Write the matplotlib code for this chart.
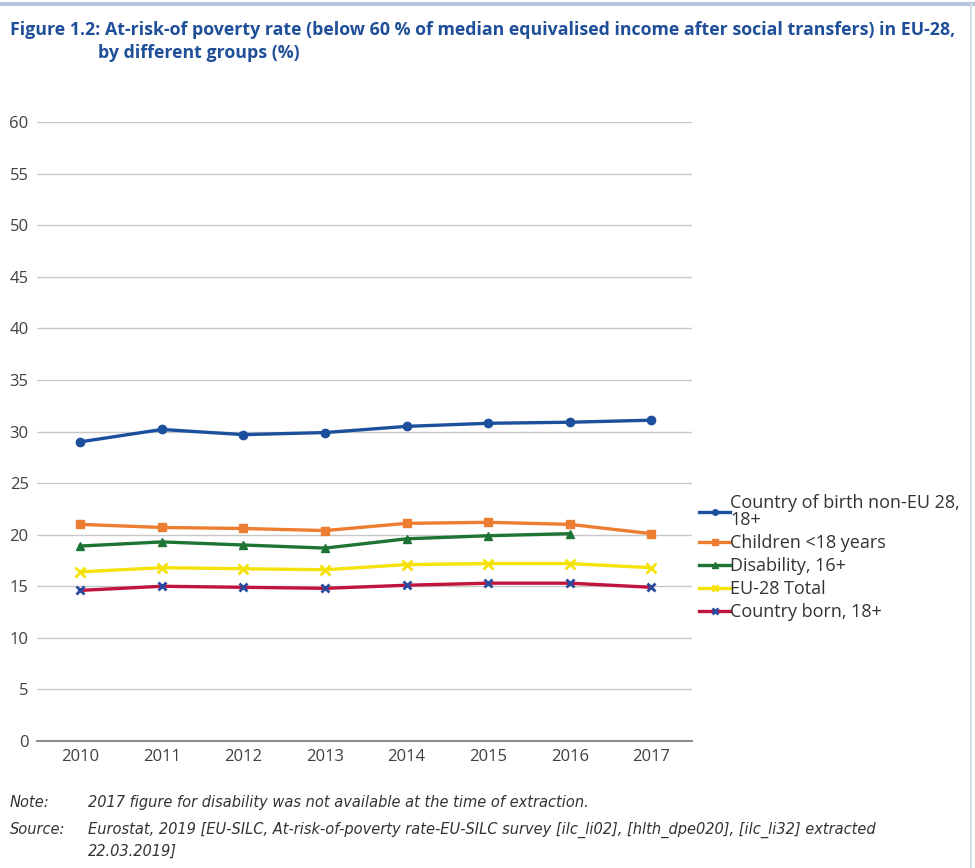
import matplotlib
matplotlib.use("Agg")
import matplotlib.pyplot as plt
from matplotlib.lines import Line2D

years = ["2010", "2011", "2012", "2013", "2014", "2015", "2016", "2017"]
non_eu = [29.0, 30.2, 29.7, 29.9, 30.5, 30.8, 30.9, 31.1]
children = [21.0, 20.7, 20.6, 20.4, 21.1, 21.2, 21.0, 20.1]
disability = [18.9, 19.3, 19.0, 18.7, 19.6, 19.9, 20.1]
eu_total = [16.4, 16.8, 16.7, 16.6, 17.1, 17.2, 17.2, 16.8]
country_born = [14.6, 15.0, 14.9, 14.8, 15.1, 15.3, 15.3, 14.9]

labels = ["Country of birth non-EU 28,\n18+", "Children <18 years", "Disability, 16+",
          "EU-28 Total", "Country born, 18+"]
yticks = list(range(0, 61, 5))

fig = plt.figure(figsize=(9.75, 8.68), dpi=100)
ax = fig.add_axes([0.038, 0.1463, 0.672, 0.7131])

x = list(range(len(years)))
tick_color = "#404040"

ax.plot(x, non_eu, color="#1c4f9c", lw=2.4, marker="o", ms=6, label=labels[0])
ax.plot(x, children, color="#ed7d31", lw=2.4, marker="s", ms=6, label=labels[1])
ax.plot(x[:len(disability)], disability, color="#1d7434", lw=2.4, marker="^", ms=6, label=labels[2])
ax.plot(x, eu_total, color="#f4e20a", lw=2.4, marker="x", ms=7, mew=2, label=labels[3])
ax.plot(x, country_born, color="#c0143c", lw=2.4, marker="x", ms=6, mew=2,
        mec="#2a4a9e", label=labels[4])

ax.set_xlim(-0.53, 7.5)
ax.set_ylim(0, 60)
ax.set_yticks(yticks)
ax.set_xticks(x)
ax.set_xticklabels(years)
for s in ["top", "right", "left"]:
    ax.spines[s].set_visible(False)
ax.spines["bottom"].set_color("#8c8c8c")
ax.spines["bottom"].set_linewidth(1.5)
ax.grid(axis="y", color="#c8c8c8", lw=1.0)
ax.set_axisbelow(True)
ax.tick_params(axis="both", length=0, labelsize=12, colors=tick_color)
ax.tick_params(axis="y", pad=6)
ax.tick_params(axis="x", pad=6)
for t in ax.get_xticklabels() + ax.get_yticklabels():
    t.set_fontfamily("Open Sans")

leg = ax.legend(loc="upper left", bbox_to_anchor=(1.0, 0.41), frameon=False,
                handlelength=1.7, handletextpad=0.0, labelspacing=0.28,
                borderaxespad=0.0, prop={"family": "Open Sans", "size": 13})
for t in leg.get_texts():
    t.set_color("#333333")
    t.set_linespacing(0.9)
for h in leg.legend_handles:
    h.set_markersize(4)

title_color = "#1f4f98"
fig.text(0.010, 0.9655, "Figure 1.2:", fontsize=12.8, fontweight="bold", color=title_color,
         family="Open Sans", va="center", ha="left")
fig.text(0.108, 0.9655,
         "At-risk-of poverty rate (below 60 % of median equivalised income after social transfers) in EU-28,",
         fontsize=12.8, fontweight="bold", color=title_color, family="Open Sans", va="center", ha="left")
fig.text(0.100, 0.939, "by different groups (%)", fontsize=12.8, fontweight="bold",
         color=title_color, family="Open Sans", va="center", ha="left")

note_color = "#333333"
fig.text(0.010, 0.076, "Note:", fontsize=10.5, style="italic", color=note_color,
         family="Liberation Sans Narrow", va="center")
fig.text(0.090, 0.076, "2017 figure for disability was not available at the time of extraction.",
         fontsize=10.5, style="italic", color=note_color, family="Liberation Sans Narrow", va="center")
fig.text(0.010, 0.044, "Source:", fontsize=10.5, style="italic", color=note_color,
         family="Liberation Sans Narrow", va="center")
fig.text(0.090, 0.044,
         "Eurostat, 2019 [EU-SILC, At-risk-of-poverty rate-EU-SILC survey [ilc_li02], [hlth_dpe020], [ilc_li32] extracted",
         fontsize=10.5, style="italic", color=note_color, family="Liberation Sans Narrow", va="center")
fig.text(0.090, 0.019, "22.03.2019]", fontsize=10.5, style="italic", color=note_color,
         family="Liberation Sans Narrow", va="center")

fig.add_artist(Line2D([0, 1], [0.995, 0.995], transform=fig.transFigure, color="#b8c6dc", lw=3))
fig.add_artist(Line2D([0.996, 0.996], [0, 0.995], transform=fig.transFigure, color="#d8dee8", lw=1.5))

fig.savefig("out.png", dpi=100)
